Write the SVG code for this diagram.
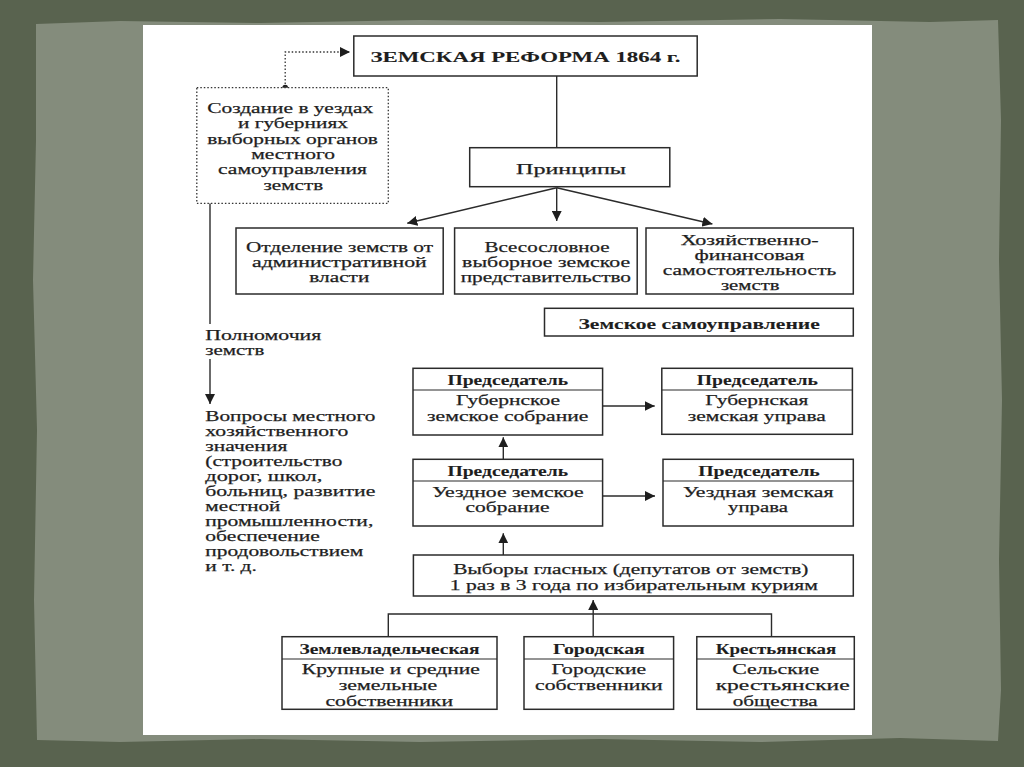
<svg xmlns="http://www.w3.org/2000/svg" width="1024" height="767" viewBox="0 0 1024 767">
<style>
.bx{fill:#fff;stroke:#2b2b2b;stroke-width:1.5}
.dv{stroke:#2b2b2b;stroke-width:1.2}
.ln{fill:none;stroke:#2b2b2b;stroke-width:1.4}
.t{font-family:"Liberation Serif","Times New Roman",serif;font-size:15.3px;fill:#1e1e1e;stroke:#1e1e1e;stroke-width:0.25}
.s{font-size:14.8px}
.b{font-weight:bold;stroke-width:0.1}
</style>
<defs>
<marker id="ah" markerUnits="userSpaceOnUse" markerWidth="12" markerHeight="10" refX="10" refY="5" orient="auto">
<path d="M0,0 L10,5 L0,10 z" fill="#1e1e1e"/>
</marker>
</defs>
<rect x="0" y="0" width="1024" height="767" fill="#59634f"/>
<path d="M36,24 L120,21 L260,23 L420,20 L600,22 L780,19 L930,22 L998,20 L1001,120 L999,260 L1002,400 L999,560 L1001,690 L998,741 L900,738 L760,742 L600,739 L420,742 L260,739 L120,742 L37,740 L34,600 L37,430 L33,280 L36,140 Z" fill="#848c7c"/>
<rect x="143" y="25" width="729" height="710" fill="#ffffff"/>

<g id="connectors">
<line class="ln" x1="556.7" y1="76" x2="556.7" y2="147.7"/>
<line class="ln" x1="556.7" y1="187.7" x2="407.3" y2="223.3" marker-end="url(#ah)"/>
<line class="ln" x1="556.7" y1="187.7" x2="556.7" y2="221" marker-end="url(#ah)"/>
<line class="ln" x1="556.7" y1="187.7" x2="712.4" y2="224" marker-end="url(#ah)"/>
<circle cx="285.2" cy="87.5" r="2.8" fill="#1e1e1e"/>
<polyline points="285.2,87.5 285.2,52 350,52" fill="none" stroke="#333" stroke-width="1.3" stroke-dasharray="1.5 2" marker-end="url(#ah)"/>
<line class="ln" x1="210" y1="203.3" x2="210" y2="324"/>
<line class="ln" x1="210" y1="359" x2="210" y2="404" marker-end="url(#ah)"/>
<line class="ln" x1="602.6" y1="406" x2="654.7" y2="406" marker-end="url(#ah)"/>
<line class="ln" x1="503.3" y1="459.3" x2="503.3" y2="437.3" marker-end="url(#ah)"/>
<line class="ln" x1="602.6" y1="496" x2="655" y2="496" marker-end="url(#ah)"/>
<line class="ln" x1="503.3" y1="555" x2="503.3" y2="533.3" marker-end="url(#ah)"/>
<line class="ln" x1="593.2" y1="636.7" x2="593.2" y2="600" marker-end="url(#ah)"/>
<polyline class="ln" points="388.3,636.7 388.3,614 771.5,614 771.5,636.7"/>
</g>

<g id="title">
<rect class="bx" x="353.8" y="36" width="343.4" height="40"/>
<text class="t b" x="370.4" y="62" font-size="16" textLength="310" lengthAdjust="spacingAndGlyphs">ЗЕМСКАЯ РЕФОРМА 1864 г.</text>
</g>

<g id="principles">
<rect class="bx" x="469.7" y="147.7" width="200.1" height="39"/>
<text class="t" x="516" y="174" font-size="16" textLength="110" lengthAdjust="spacingAndGlyphs">Принципы</text>
</g>

<g id="p1">
<rect class="bx" x="236" y="228" width="207.2" height="66"/>
<text class="t s" x="246" y="251.5" textLength="187" lengthAdjust="spacingAndGlyphs">Отделение земств от</text>
<text class="t s" x="252.1" y="266.5" textLength="174.6" lengthAdjust="spacingAndGlyphs">административной</text>
<text class="t s" x="309.3" y="281.5" textLength="60" lengthAdjust="spacingAndGlyphs">власти</text>
</g>

<g id="p2">
<rect class="bx" x="454.6" y="228" width="182.6" height="66"/>
<text class="t s" x="484.4" y="251.5" textLength="125.3" lengthAdjust="spacingAndGlyphs">Всесословное</text>
<text class="t s" x="462.1" y="266.5" textLength="168" lengthAdjust="spacingAndGlyphs">выборное земское</text>
<text class="t s" x="460.7" y="281.5" textLength="170.3" lengthAdjust="spacingAndGlyphs">представительство</text>
</g>

<g id="p3">
<rect class="bx" x="646" y="228" width="207.3" height="66"/>
<text class="t s" x="680.7" y="244.5" textLength="138" lengthAdjust="spacingAndGlyphs">Хозяйственно-</text>
<text class="t s" x="694.4" y="259.5" textLength="110" lengthAdjust="spacingAndGlyphs">финансовая</text>
<text class="t s" x="662.7" y="274.5" textLength="173.6" lengthAdjust="spacingAndGlyphs">самостоятельность</text>
<text class="t s" x="720.9" y="290" textLength="58.6" lengthAdjust="spacingAndGlyphs">земств</text>
</g>

<g id="creation">
<rect x="196.8" y="87.7" width="191.5" height="115.6" fill="#fff" stroke="#333" stroke-width="1.3" stroke-dasharray="1.5 2"/>
<text class="t" x="207.2" y="113" textLength="166" lengthAdjust="spacingAndGlyphs">Создание в уездах</text>
<text class="t" x="237.9" y="128" textLength="110" lengthAdjust="spacingAndGlyphs">и губерниях</text>
<text class="t" x="207.2" y="143.5" textLength="170.8" lengthAdjust="spacingAndGlyphs">выборных органов</text>
<text class="t" x="251.2" y="158.5" textLength="83.7" lengthAdjust="spacingAndGlyphs">местного</text>
<text class="t" x="218" y="174" textLength="149" lengthAdjust="spacingAndGlyphs">самоуправления</text>
<text class="t" x="263.5" y="189.5" textLength="59.6" lengthAdjust="spacingAndGlyphs">земств</text>
</g>

<g id="powers">
<text class="t" x="205.3" y="339.5" textLength="116" lengthAdjust="spacingAndGlyphs">Полномочия</text>
<text class="t" x="205.3" y="354.5" textLength="59" lengthAdjust="spacingAndGlyphs">земств</text>
</g>

<g id="issues">
<text class="t" x="205.3" y="421" textLength="170" lengthAdjust="spacingAndGlyphs">Вопросы местного</text>
<text class="t" x="205.3" y="436" textLength="143" lengthAdjust="spacingAndGlyphs">хозяйственного</text>
<text class="t" x="205.3" y="451" textLength="82" lengthAdjust="spacingAndGlyphs">значения</text>
<text class="t" x="205.3" y="466" textLength="137" lengthAdjust="spacingAndGlyphs">(строительство</text>
<text class="t" x="205.3" y="481" textLength="117" lengthAdjust="spacingAndGlyphs">дорог, школ,</text>
<text class="t" x="205.3" y="496" textLength="170" lengthAdjust="spacingAndGlyphs">больниц, развитие</text>
<text class="t" x="205.3" y="511" textLength="75" lengthAdjust="spacingAndGlyphs">местной</text>
<text class="t" x="205.3" y="526" textLength="168" lengthAdjust="spacingAndGlyphs">промышленности,</text>
<text class="t" x="205.3" y="541" textLength="114.5" lengthAdjust="spacingAndGlyphs">обеспечение</text>
<text class="t" x="205.3" y="556" textLength="158" lengthAdjust="spacingAndGlyphs">продовольствием</text>
<text class="t" x="205.3" y="571" textLength="51.6" lengthAdjust="spacingAndGlyphs">и т. д.</text>
</g>

<g id="selfgov">
<rect class="bx" x="544.5" y="308.3" width="308.8" height="27.7"/>
<text class="t b" x="578.5" y="329" textLength="241.3" lengthAdjust="spacingAndGlyphs">Земское самоуправление</text>
</g>

<g id="gub-sobranie">
<rect class="bx" x="413" y="368.3" width="189.6" height="66.7"/>
<line class="dv" x1="413" y1="390" x2="602.6" y2="390"/>
<text class="t b" x="447.5" y="385" textLength="120.6" lengthAdjust="spacingAndGlyphs">Председатель</text>
<text class="t" x="456" y="405" textLength="104" lengthAdjust="spacingAndGlyphs">Губернское</text>
<text class="t" x="427.1" y="421" textLength="161.3" lengthAdjust="spacingAndGlyphs">земское собрание</text>
</g>

<g id="gub-uprava">
<rect class="bx" x="661.8" y="368.3" width="190.6" height="66"/>
<line class="dv" x1="661.8" y1="390" x2="852.4" y2="390"/>
<text class="t b" x="696.8" y="385" textLength="121" lengthAdjust="spacingAndGlyphs">Председатель</text>
<text class="t" x="705.3" y="405" textLength="103" lengthAdjust="spacingAndGlyphs">Губернская</text>
<text class="t" x="687.8" y="421" textLength="138" lengthAdjust="spacingAndGlyphs">земская управа</text>
</g>

<g id="uezd-sobranie">
<rect class="bx" x="413" y="459.3" width="189.6" height="66.7"/>
<line class="dv" x1="413" y1="481" x2="602.6" y2="481"/>
<text class="t b" x="447.5" y="476" textLength="120.6" lengthAdjust="spacingAndGlyphs">Председатель</text>
<text class="t" x="432.3" y="497" textLength="151.4" lengthAdjust="spacingAndGlyphs">Уездное земское</text>
<text class="t" x="465.5" y="512" textLength="84" lengthAdjust="spacingAndGlyphs">собрание</text>
</g>

<g id="uezd-uprava">
<rect class="bx" x="663" y="459.3" width="190.3" height="66.7"/>
<line class="dv" x1="663" y1="481" x2="853.3" y2="481"/>
<text class="t b" x="698.2" y="476" textLength="121.6" lengthAdjust="spacingAndGlyphs">Председатель</text>
<text class="t" x="683" y="497" textLength="150.4" lengthAdjust="spacingAndGlyphs">Уездная земская</text>
<text class="t" x="728" y="512" textLength="60" lengthAdjust="spacingAndGlyphs">управа</text>
</g>

<g id="elections">
<rect class="bx" x="413.4" y="555" width="439.9" height="41"/>
<text class="t" x="453.2" y="574" textLength="355.3" lengthAdjust="spacingAndGlyphs">Выборы гласных (депутатов от земств)</text>
<text class="t" x="449.8" y="589.5" textLength="368" lengthAdjust="spacingAndGlyphs">1 раз в 3 года по избирательным куриям</text>
</g>

<g id="curia-land">
<rect class="bx" x="282" y="636.7" width="215" height="72.6"/>
<line class="dv" x1="282" y1="659" x2="497" y2="659"/>
<text class="t b" x="299.4" y="654" textLength="180.2" lengthAdjust="spacingAndGlyphs">Землевладельческая</text>
<text class="t" x="301.8" y="674" textLength="177.9" lengthAdjust="spacingAndGlyphs">Крупные и средние</text>
<text class="t" x="338.7" y="690" textLength="98.4" lengthAdjust="spacingAndGlyphs">земельные</text>
<text class="t" x="325.4" y="705.5" textLength="127.7" lengthAdjust="spacingAndGlyphs">собственники</text>
</g>

<g id="curia-city">
<rect class="bx" x="524" y="636.7" width="149.6" height="72.6"/>
<line class="dv" x1="524" y1="659" x2="673.6" y2="659"/>
<text class="t b" x="553" y="654" textLength="91.8" lengthAdjust="spacingAndGlyphs">Городская</text>
<text class="t" x="551.5" y="674" textLength="94.6" lengthAdjust="spacingAndGlyphs">Городские</text>
<text class="t" x="535" y="690" textLength="127.7" lengthAdjust="spacingAndGlyphs">собственники</text>
</g>

<g id="curia-peasant">
<rect class="bx" x="696.8" y="636.7" width="157.5" height="72.6"/>
<line class="dv" x1="696.8" y1="659" x2="854.3" y2="659"/>
<text class="t b" x="715.7" y="654" textLength="120.6" lengthAdjust="spacingAndGlyphs">Крестьянская</text>
<text class="t" x="732.2" y="674" textLength="87" lengthAdjust="spacingAndGlyphs">Сельские</text>
<text class="t" x="715.7" y="690" textLength="133.9" lengthAdjust="spacingAndGlyphs">крестьянские</text>
<text class="t" x="732.7" y="705.5" textLength="85" lengthAdjust="spacingAndGlyphs">общества</text>
</g>
</svg>
